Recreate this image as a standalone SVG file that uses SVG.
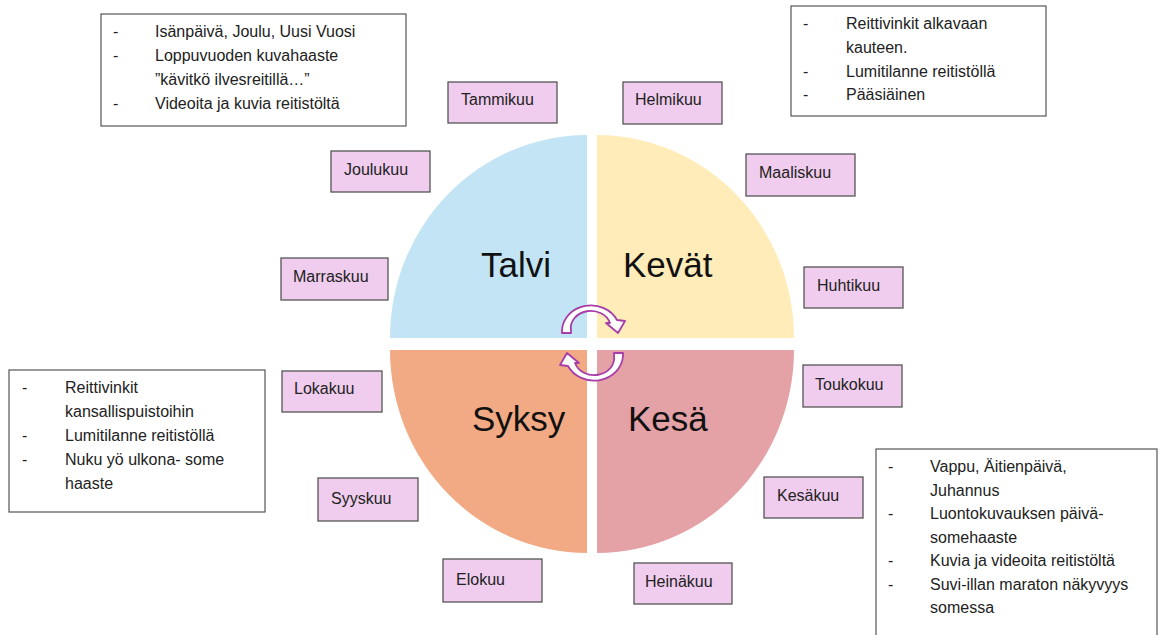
<svg xmlns="http://www.w3.org/2000/svg" width="1165" height="635" viewBox="0 0 1165 635">
  <style>
    .month rect { fill: #F0CDEE; stroke: #555; stroke-width: 1.3; }
    .month text { font-family: "Liberation Sans", Arial, sans-serif; font-size: 16px; fill: #222; }
    .season { font-family: "Liberation Sans", Arial, sans-serif; font-size: 35px; fill: #111; }
    .note rect { fill: #fff; stroke: #555; stroke-width: 1.2; }
    .note text { font-family: "Liberation Sans", Arial, sans-serif; font-size: 16px; fill: #222; }
    .cycle { fill: #fff; stroke: #A83CA8; stroke-width: 1.8; stroke-linejoin: round; }
  </style>

  <rect width="1165" height="635" fill="#fff"/>

  <!-- Season quadrants -->
  <g id="talvi">
    <path d="M 587 338 L 390 338 A 197 203 0 0 1 587 135 Z" fill="#C2E4F4"/>
    <text class="season" x="481" y="277">Talvi</text>
  </g>
  <g id="kevat">
    <path d="M 597 338 L 597 135 A 197 203 0 0 1 794 338 Z" fill="#FFECB8"/>
    <text class="season" x="623" y="277">Kevät</text>
  </g>
  <g id="syksy">
    <path d="M 587 350 L 587 553 A 197 203 0 0 1 390 350 Z" fill="#F1AA84"/>
    <text class="season" x="472" y="431">Syksy</text>
  </g>
  <g id="kesa">
    <path d="M 597 350 L 794 350 A 197 203 0 0 1 597 553 Z" fill="#E4A2A7"/>
    <text class="season" x="628" y="431">Kesä</text>
  </g>

  <!-- Circular cycle arrows in the middle -->
  <g id="connectors">
    <path id="cycle-top" class="cycle" d="M 562 333 L 562 330 A 29 26 0 0 1 617 320 L 625 321 L 618 333 L 606 323 L 610 323 A 20 17 0 0 0 571 330 L 571 333 Z"/>
    <use href="#cycle-top" transform="rotate(180 592.5 343)"/>
  </g>

  <!-- Months -->
  <g id="tammikuu" class="month"><rect x="448" y="82" width="109" height="41"/><text x="461" y="105">Tammikuu</text></g>
  <g id="helmikuu" class="month"><rect x="623" y="82" width="99" height="42"/><text x="635" y="105">Helmikuu</text></g>
  <g id="maaliskuu" class="month"><rect x="746" y="154" width="109" height="42"/><text x="759" y="178">Maaliskuu</text></g>
  <g id="huhtikuu" class="month"><rect x="804" y="267" width="99" height="41"/><text x="817" y="291">Huhtikuu</text></g>
  <g id="toukokuu" class="month"><rect x="803" y="365" width="99" height="42"/><text x="815" y="390">Toukokuu</text></g>
  <g id="kesakuu" class="month"><rect x="764" y="477" width="99" height="41"/><text x="777" y="501">Kesäkuu</text></g>
  <g id="heinakuu" class="month"><rect x="634" y="563" width="98" height="41"/><text x="645" y="587">Heinäkuu</text></g>
  <g id="elokuu" class="month"><rect x="443" y="559" width="99" height="43"/><text x="456" y="585">Elokuu</text></g>
  <g id="syyskuu" class="month"><rect x="318" y="478" width="100" height="43"/><text x="331" y="504">Syyskuu</text></g>
  <g id="lokakuu" class="month"><rect x="282" y="371" width="100" height="41"/><text x="294" y="394">Lokakuu</text></g>
  <g id="marraskuu" class="month"><rect x="281" y="258" width="107" height="42"/><text x="293" y="282">Marraskuu</text></g>
  <g id="joulukuu" class="month"><rect x="331" y="151" width="99" height="41"/><text x="344" y="175">Joulukuu</text></g>

  <!-- Notes per season -->
  <g id="note-talvi" class="note">
    <rect x="101" y="14" width="305" height="112"/>
    <text x="113" y="37">-</text><text x="155" y="37">Isänpäivä, Joulu, Uusi Vuosi</text>
    <text x="113" y="61">-</text><text x="155" y="61">Loppuvuoden kuvahaaste</text>
    <text x="155" y="85">”kävitkö ilvesreitillä…”</text>
    <text x="113" y="109">-</text><text x="155" y="109">Videoita ja kuvia reitistöltä</text>
  </g>
  <g id="note-kevat" class="note">
    <rect x="791" y="6" width="255" height="110"/>
    <text x="803" y="29">-</text><text x="846" y="29">Reittivinkit alkavaan</text>
    <text x="846" y="53">kauteen.</text>
    <text x="803" y="77">-</text><text x="846" y="77">Lumitilanne reitistöllä</text>
    <text x="803" y="100">-</text><text x="846" y="100">Pääsiäinen</text>
  </g>
  <g id="note-syksy" class="note">
    <rect x="9" y="370" width="256" height="142"/>
    <text x="22" y="393">-</text><text x="65" y="393">Reittivinkit</text>
    <text x="65" y="417">kansallispuistoihin</text>
    <text x="22" y="441">-</text><text x="65" y="441">Lumitilanne reitistöllä</text>
    <text x="22" y="465">-</text><text x="65" y="465">Nuku yö ulkona- some</text>
    <text x="65" y="489">haaste</text>
  </g>
  <g id="note-kesa" class="note">
    <rect x="876" y="449" width="281" height="200"/>
    <text x="888" y="472">-</text><text x="930" y="472">Vappu, Äitienpäivä,</text>
    <text x="930" y="496">Juhannus</text>
    <text x="888" y="519">-</text><text x="930" y="519">Luontokuvauksen päivä-</text>
    <text x="930" y="543">somehaaste</text>
    <text x="888" y="566">-</text><text x="930" y="566">Kuvia ja videoita reitistöltä</text>
    <text x="888" y="590">-</text><text x="930" y="590">Suvi-illan maraton näkyvyys</text>
    <text x="930" y="613">somessa</text>
  </g>
</svg>
